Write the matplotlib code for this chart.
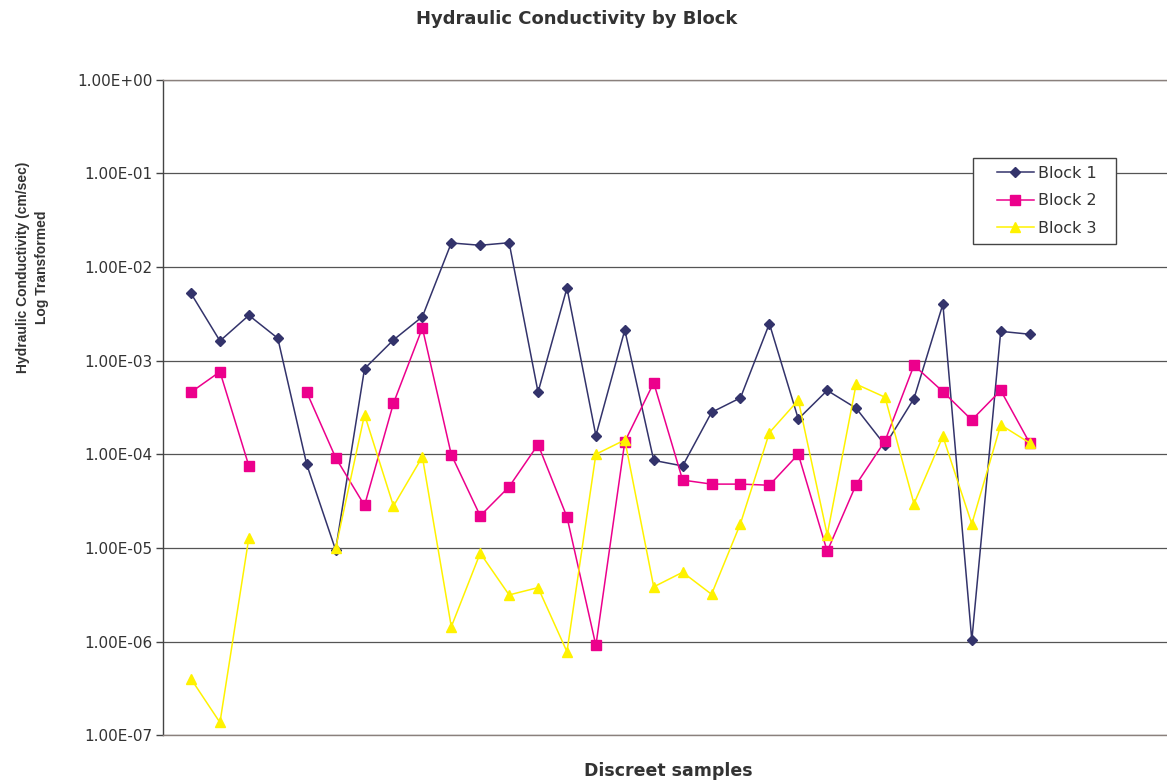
import numpy as np
import matplotlib
matplotlib.use("Agg")
import matplotlib.pyplot as plt
from matplotlib.patches import Rectangle
from matplotlib.ticker import FixedLocator, FuncFormatter, NullLocator

nan = np.nan

# Hydraulic conductivity (cm/sec) per discrete sample, one list per block
samples = list(range(1, 31))
block1 = [5.2e-3, 1.62e-3, 3.04e-3, 1.73e-3, 7.8e-5, 9.5e-6, 8.2e-4, 1.66e-3,
          2.94e-3, 1.8e-2, 1.7e-2, 1.81e-2, 4.6e-4, 5.95e-3, 1.58e-4, 2.12e-3,
          8.6e-5, 7.5e-5, 2.8e-4, 4.0e-4, 2.48e-3, 2.38e-4, 4.8e-4, 3.1e-4,
          1.25e-4, 3.93e-4, 4.0e-3, 1.03e-6, 2.05e-3, 1.91e-3]
block2 = [4.6e-4, 7.6e-4, 7.5e-5, nan, 4.6e-4, 9.2e-5, 2.84e-5, 3.5e-4,
          2.23e-3, 9.9e-5, 2.2e-5, 4.5e-5, 1.27e-4, 2.14e-5, 9.1e-7, 1.36e-4,
          5.8e-4, 5.3e-5, 4.8e-5, 4.8e-5, 4.67e-5, 1.0e-4, 9.2e-6, 4.75e-5,
          1.39e-4, 8.9e-4, 4.66e-4, 2.32e-4, 4.8e-4, 1.32e-4]
block3 = [4.0e-7, 1.37e-7, 1.29e-5, nan, nan, 9.9e-6, 2.65e-4, 2.8e-5,
          9.4e-5, 1.44e-6, 8.8e-6, 3.15e-6, 3.77e-6, 7.8e-7, 1.0e-4, 1.42e-4,
          3.84e-6, 5.5e-6, 3.2e-6, 1.82e-5, 1.70e-4, 3.78e-4, 1.38e-5, 5.6e-4,
          4.06e-4, 2.96e-5, 1.55e-4, 1.8e-5, 2.06e-4, 1.32e-4]
y_ticks = [1e-7, 1e-6, 1e-5, 1e-4, 1e-3, 1e-2, 1e-1, 1e0]

W, H = 1167, 782
fig = plt.figure(figsize=(W / 100, H / 100), dpi=100)
fig.patch.set_facecolor("white")

left, right, top, bottom = 162.7, 1167, 79.5, 735.3
ax = fig.add_axes([left / W, 1 - bottom / H, (right - left) / W, (bottom - top) / H])

series = [
    ("Block 1", block1, "#33336b", "D", 5.4),
    ("Block 2", block2, "#ec008c", "s", 6.5),
    ("Block 3", block3, "#fff200", "^", 7.2),
]
for name, vals, col, mk, ms in series:
    ax.plot(samples, vals, color=col, lw=1.1, marker=mk, markersize=ms,
            markerfacecolor=col, markeredgecolor=col, label=name, zorder=3)

ax.set_yscale("log")
ax.set_ylim(1e-7, 1e0)
ax.set_xlim(0.02, 34.75)
ax.yaxis.set_major_locator(FixedLocator(y_ticks))
ax.yaxis.set_minor_locator(NullLocator())
ax.yaxis.set_major_formatter(FuncFormatter(lambda v, p: f"{v:.2E}"))
ax.set_xticks([])
ax.tick_params(axis="y", direction="out", length=5, width=1, pad=2.5,
               colors="#444444", labelcolor="#333333", labelsize=11)
ax.grid(axis="y", color="#555555", lw=0.9, zorder=0)

ax.spines["right"].set_visible(False)
ax.spines["top"].set_color("#8a807c")
ax.spines["bottom"].set_color("#8a807c")
ax.spines["left"].set_color("#444444")
for s in ("top", "bottom", "left"):
    ax.spines[s].set_linewidth(1.0)

ax.set_ylabel("Hydraulic Conductivity (cm/sec)\nLog Transformed",
              fontsize=10, fontweight="bold", family="Liberation Sans",
              color="#333333", linespacing=1.5)
ax.yaxis.set_label_coords(-0.113, 0.713)

fig.text(577 / W, 1 - 23.7 / H, "Hydraulic Conductivity by Block",
         ha="center", va="baseline", fontsize=13, fontweight="bold",
         color="#333333")
fig.text(668 / W, 1 - 775.7 / H, "Discreet samples",
         ha="center", va="baseline", fontsize=12.5, fontweight="bold",
         color="#333333")

# legend frame drawn separately so the inner padding can be wider than tall
frame = Rectangle((973 / W, 1 - 244 / H), 143 / W, 86 / H,
                  transform=fig.transFigure, facecolor="white",
                  edgecolor="#444444", lw=1.0, zorder=4, clip_on=False)
ax.add_patch(frame)
leg = ax.legend(loc="upper left", bbox_to_anchor=(997 / W, 1 - 166 / H),
                bbox_transform=fig.transFigure, borderaxespad=0, borderpad=0,
                fontsize=11.5, handlelength=2.3, labelspacing=0.78,
                handletextpad=0.25, frameon=False)
leg.set_zorder(5)
for t in leg.get_texts():
    t.set_color("#333333")

fig.savefig("out.png", dpi=100, facecolor="white")
